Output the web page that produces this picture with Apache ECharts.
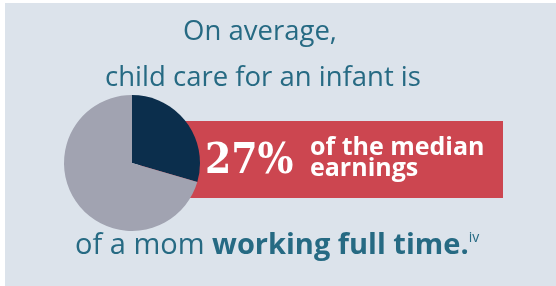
<!DOCTYPE html>
<html>
<head>
<meta charset="UTF-8">
<title>child care cost</title>
<script src="https://cdn.jsdelivr.net/npm/echarts@6/dist/echarts.min.js"></script>
<style>
  html, body { margin: 0; padding: 0; background: #fff; }
  #main { width: 556px; height: 286px; }
</style>
</head>
<body>
<div id="main"></div>
<script>
// share of median earnings
var sliceNames = ['child care', 'rest'];
var sliceValues = [29.5, 70.5];
var headline = ['On average,', 'child care for an infant is'];
var bigNumber = '27%';
var boxText = ['of the median', 'earnings'];

var teal = '#266a83';
var sans = '"Open Sans"';
var myChart = echarts.init(document.getElementById('main'));

var option = {
  backgroundColor: '#ffffff',
  animation: false,
  graphic: [
    // panel
    { type: 'rect', z: 0, shape: { x: 5, y: 3, width: 551, height: 283 }, style: { fill: '#dce3eb' } },
    // red band behind pie
    { type: 'rect', z: 1, shape: { x: 140, y: 121, width: 363, height: 77 }, style: { fill: '#cc4650' } },
    { type: 'text', z: 10, x: 260, y: 18,
      style: { text: headline[0], font: '27.5px ' + sans, fill: teal, textAlign: 'center',
               shadowBlur: 6, shadowColor: 'rgba(255,255,255,0.8)' } },
    { type: 'text', z: 10, x: 263, y: 64,
      style: { text: headline[1], font: '27.5px ' + sans, fill: teal, textAlign: 'center',
               shadowBlur: 6, shadowColor: 'rgba(255,255,255,0.8)' } },
    { type: 'text', z: 10, x: 205, y: 141,
      style: { text: bigNumber, font: 'bold 42px "DejaVu Serif Condensed", "DejaVu Serif"', fill: '#ffffff',
               shadowBlur: 12, shadowColor: 'rgba(60,20,40,0.7)' } },
    { type: 'text', z: 10, x: 310, y: 135,
      style: { text: boxText[0], font: 'bold 25px ' + sans, fill: '#ffffff' } },
    { type: 'text', z: 10, x: 310, y: 156,
      style: { text: boxText[1], font: 'bold 25px ' + sans, fill: '#ffffff' } },
    { type: 'text', z: 10, left: 75, top: 231,
      style: {
        text: '{r|of a mom }{b|working full time.}{s|iv}',
        rich: {
          r: { font: '29px ' + sans, fill: teal, verticalAlign: 'bottom' },
          b: { font: 'bold 29px ' + sans, fill: teal, verticalAlign: 'bottom' },
          s: { font: '14px ' + sans, fill: teal, verticalAlign: 'top' }
        }
      } }
  ],
  series: [{
    type: 'pie',
    z: 5,
    center: [132, 163],
    radius: 68,
    startAngle: 90,
    clockwise: true,
    label: { show: false },
    labelLine: { show: false },
    emphasis: { disabled: true },
    itemStyle: { borderWidth: 0 },
    data: sliceNames.map(function (n, i) {
      return { name: n, value: sliceValues[i],
               itemStyle: { color: i === 0 ? '#0b2e4c' : '#a1a3b1' } };
    })
  }]
};
myChart.setOption(option);
</script>
</body>
</html>
